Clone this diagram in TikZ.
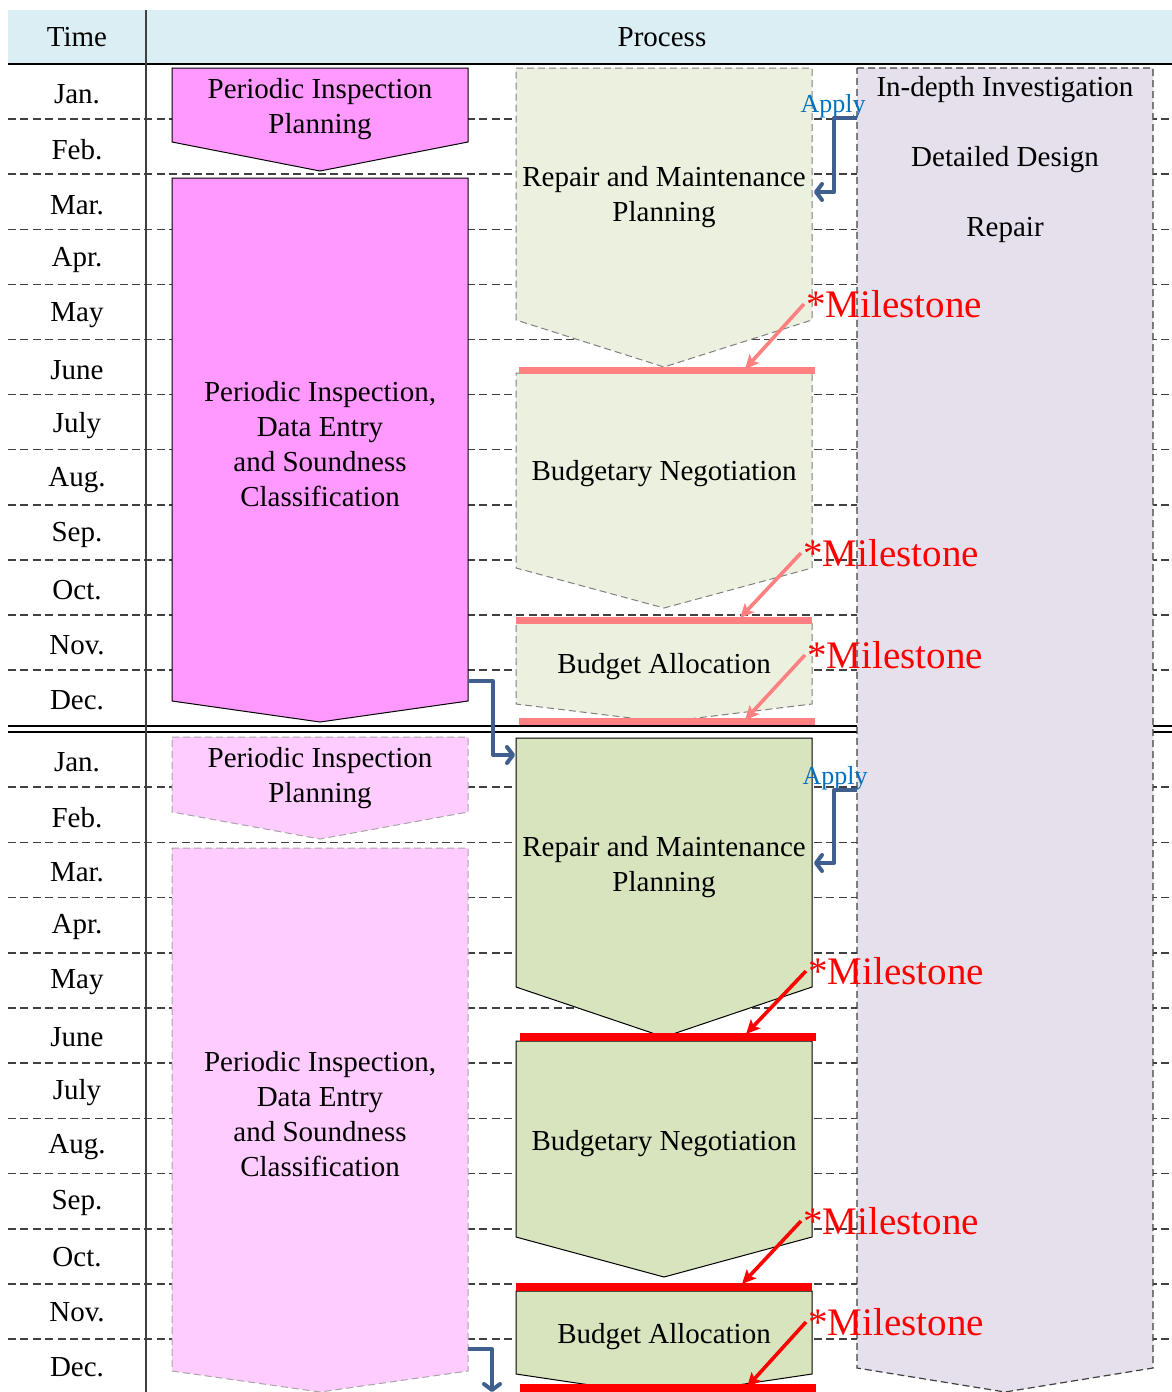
\documentclass[tikz,border=0pt]{standalone}
\usepackage{fontspec}
\setmainfont{Liberation Serif}
\usetikzlibrary{arrows.meta}

\definecolor{headfill}{HTML}{DAEEF3}
\definecolor{pinkA}{HTML}{FF99FF}
\definecolor{pinkB}{HTML}{FFCCFF}
\definecolor{greenA}{HTML}{EBF1DE}
\definecolor{greenB}{HTML}{D7E4BD}
\definecolor{lavfill}{HTML}{E5E0EC}
\definecolor{gridgray}{HTML}{404040}
\definecolor{linkblue}{HTML}{3F5F8E}
\definecolor{applyblue}{HTML}{0070C0}

% a downward pointing box: style, left, right, top, side bottom, tip
\newcommand{\chevbox}[6]{%
  \draw[#1] (#2,#4) -- (#3,#4) -- (#3,#5) -- ({(#2+#3)/2},#6) -- (#2,#5) -- cycle;}

\tikzset{
  rowline/.style={draw=gridgray, line width=0.75pt, dash pattern=on 4pt off 2.2pt},
  pinkfirst/.style={fill=pinkA, draw=black, line width=0.5pt},
  pinksecond/.style={fill=pinkB, draw=black!35, line width=0.5pt, dash pattern=on 3.5pt off 2pt},
  greenfirst/.style={fill=greenA, draw=black!50, line width=0.5pt, dash pattern=on 3.5pt off 2pt},
  greensecond/.style={fill=greenB, draw=black, line width=0.5pt},
  lavbox/.style={fill=lavfill, draw=gridgray, line width=0.6pt, dash pattern=on 3.5pt off 2pt},
  headtxt/.style={inner sep=0pt, font=\fontsize{14.5}{17.5}\selectfont},
  txt/.style={align=center, inner sep=0pt, yshift=-1.5pt, font=\fontsize{14.5}{17.5}\selectfont},
  month/.style={inner sep=0pt, yshift=-1.5pt, font=\fontsize{14.5}{17.5}\selectfont},
  mstext/.style={anchor=west, inner sep=0pt, text=red, font=\fontsize{19.5}{22}\selectfont},
  apply/.style={inner sep=0pt, yshift=-1pt, text=applyblue, font=\fontsize{13}{15}\selectfont},
  redbar/.style={draw=red, line width=3.7pt},
  fadebar/.style={draw=red!50, line width=3.5pt},
  msarrow/.style={draw=red, line width=1.8pt, -{Stealth[length=7pt,width=6.5pt,inset=1.5pt]}},
  msfadearrow/.style={msarrow, draw=red!50},
  link/.style={draw=linkblue, line width=2pt, line join=round,
    -{Straight Barb[length=3pt,width=8pt,line join=round,line cap=round]}},
}

\begin{document}
\begin{tikzpicture}[x=0.5pt, y=-0.5pt]
\useasboundingbox (0,0) rectangle (1172,1392);

% header band
\fill[headfill] (8,10) rectangle (1172,64);
\node[headtxt] (thead) at (77,37) {Time};
\node[headtxt] (phead) at (662,37) {Process};

% month rows
\foreach \k in {1,...,11}{
  \draw[rowline] (8,{64+55.1*\k}) -- (1172,{64+55.1*\k});
  \draw[rowline] (8,{732+55.2*\k}) -- (1172,{732+55.2*\k});
}
\draw[black, line width=0.8pt] (8,64) -- (1172,64);
\draw[black, line width=0.6pt] (8,726) -- (1172,726);
\draw[black, line width=0.6pt] (8,732) -- (1172,732);
\draw[black!75, line width=0.7pt] (146,10) -- (146,1392);

% month labels
\foreach \m [count=\i] in {Jan.,Feb.,Mar.,Apr.,May,June,July,Aug.,Sep.,Oct.,Nov.,Dec.}{
  \node[month] (ma\i) at (77,{64+55.1*(\i-0.5)}) {\m};
  \node[month] (mb\i) at (77,{732+55.0*(\i-0.5)}) {\m};
}

% right column: investigation, design, repair
\chevbox{lavbox}{857}{1153}{68}{1368}{1392}
\node[txt] (inv) at (1005,87) {In-depth Investigation};
\node[txt] (des) at (1005,157) {Detailed Design};
\node[txt] (rep) at (1005,227) {Repair};

% first year, inspection column
\chevbox{pinkfirst}{172}{468}{68}{142}{171}
\chevbox{pinkfirst}{172}{468}{178}{701}{722}
\node[txt] (pipa) at (320,106) {Periodic Inspection\\Planning};
\node[txt] (pia) at (320,441) {Periodic Inspection,\\Data Entry\\and Soundness\\Classification};

% second year, inspection column
\chevbox{pinksecond}{172}{468}{737}{812}{839}
\chevbox{pinksecond}{172}{468}{848}{1371}{1392}
\node[txt] (pipb) at (320,775) {Periodic Inspection\\Planning};
\node[txt] (pib) at (320,1111) {Periodic Inspection,\\Data Entry\\and Soundness\\Classification};

% first year, budget column
\chevbox{greenfirst}{516}{812}{68}{320}{367}
\chevbox{greenfirst}{516}{812}{373}{568}{608}
\chevbox{greenfirst}{516}{812}{622}{704}{722}
\node[txt] (rmpa) at (664,194) {Repair and Maintenance\\Planning};
\node[txt] (bna) at (664,471) {Budgetary Negotiation};
\node[txt] (baa) at (664,664) {Budget Allocation};
\draw[fadebar] (519,370) -- (815,370);
\draw[fadebar] (516,620) -- (812,620);
\draw[fadebar] (519,721) -- (815,721);

% second year, budget column
\chevbox{greensecond}{516}{812}{738}{987}{1037}
\chevbox{greensecond}{516}{812}{1041}{1237}{1277}
\chevbox{greensecond}{516}{812}{1291}{1374}{1396}
\node[txt] (rmpb) at (664,864) {Repair and Maintenance\\Planning};
\node[txt] (bnb) at (664,1141) {Budgetary Negotiation};
\node[txt] (bab) at (664,1334) {Budget Allocation};
\draw[redbar] (520,1037) -- (816,1037);
\draw[redbar] (516,1287) -- (812,1287);
\draw[redbar] (520,1388) -- (816,1388);

% milestones
\node[mstext] (msa1) at (806,304) {*Milestone};
\node[mstext] (msa2) at (803,553) {*Milestone};
\node[mstext] (msa3) at (807,655) {*Milestone};
\node[mstext] (msb1) at (808,971) {*Milestone};
\node[mstext] (msb2) at (803,1221) {*Milestone};
\node[mstext] (msb3) at (808,1322) {*Milestone};
\coordinate (ea1) at (745,369);
\coordinate (ea2) at (740,618);
\coordinate (ea3) at (745,720);
\coordinate (eb1) at (746,1034);
\coordinate (eb2) at (742,1284);
\coordinate (eb3) at (747,1387);
\draw[msfadearrow] ([xshift=-1pt]msa1.west) -- (ea1);
\draw[msfadearrow] ([xshift=-1pt]msa2.west) -- (ea2);
\draw[msfadearrow] ([xshift=-1pt]msa3.west) -- (ea3);
\draw[msarrow] ([xshift=-1pt]msb1.west) -- (eb1);
\draw[msarrow] ([xshift=-1pt]msb2.west) -- (eb2);
\draw[msarrow] ([xshift=-1pt]msb3.west) -- (eb3);

% requests from the investigation column
\node[apply] (apa) at (833,104) {Apply};
\node[apply] (apb) at (835,776) {Apply};
\coordinate (lava) at (857,118);
\coordinate (rmpain) at (814,192);
\coordinate (lavb) at (857,790);
\coordinate (rmpbin) at (814,863);
\draw[link] (lava) -- ++(-23,0) |- (rmpain);
\draw[link] (lavb) -- ++(-23,0) |- (rmpbin);

% hand-over from inspection to planning
\coordinate (pia out) at (468,681);
\coordinate (rmpb in) at (515,755);
\coordinate (pib out) at (468,1349);
\coordinate (next in) at (492,1392);
\draw[link] (pia out) -- ++(25,0) |- (rmpb in);
\draw[link] (pib out) -| (next in);
\end{tikzpicture}
\end{document}
